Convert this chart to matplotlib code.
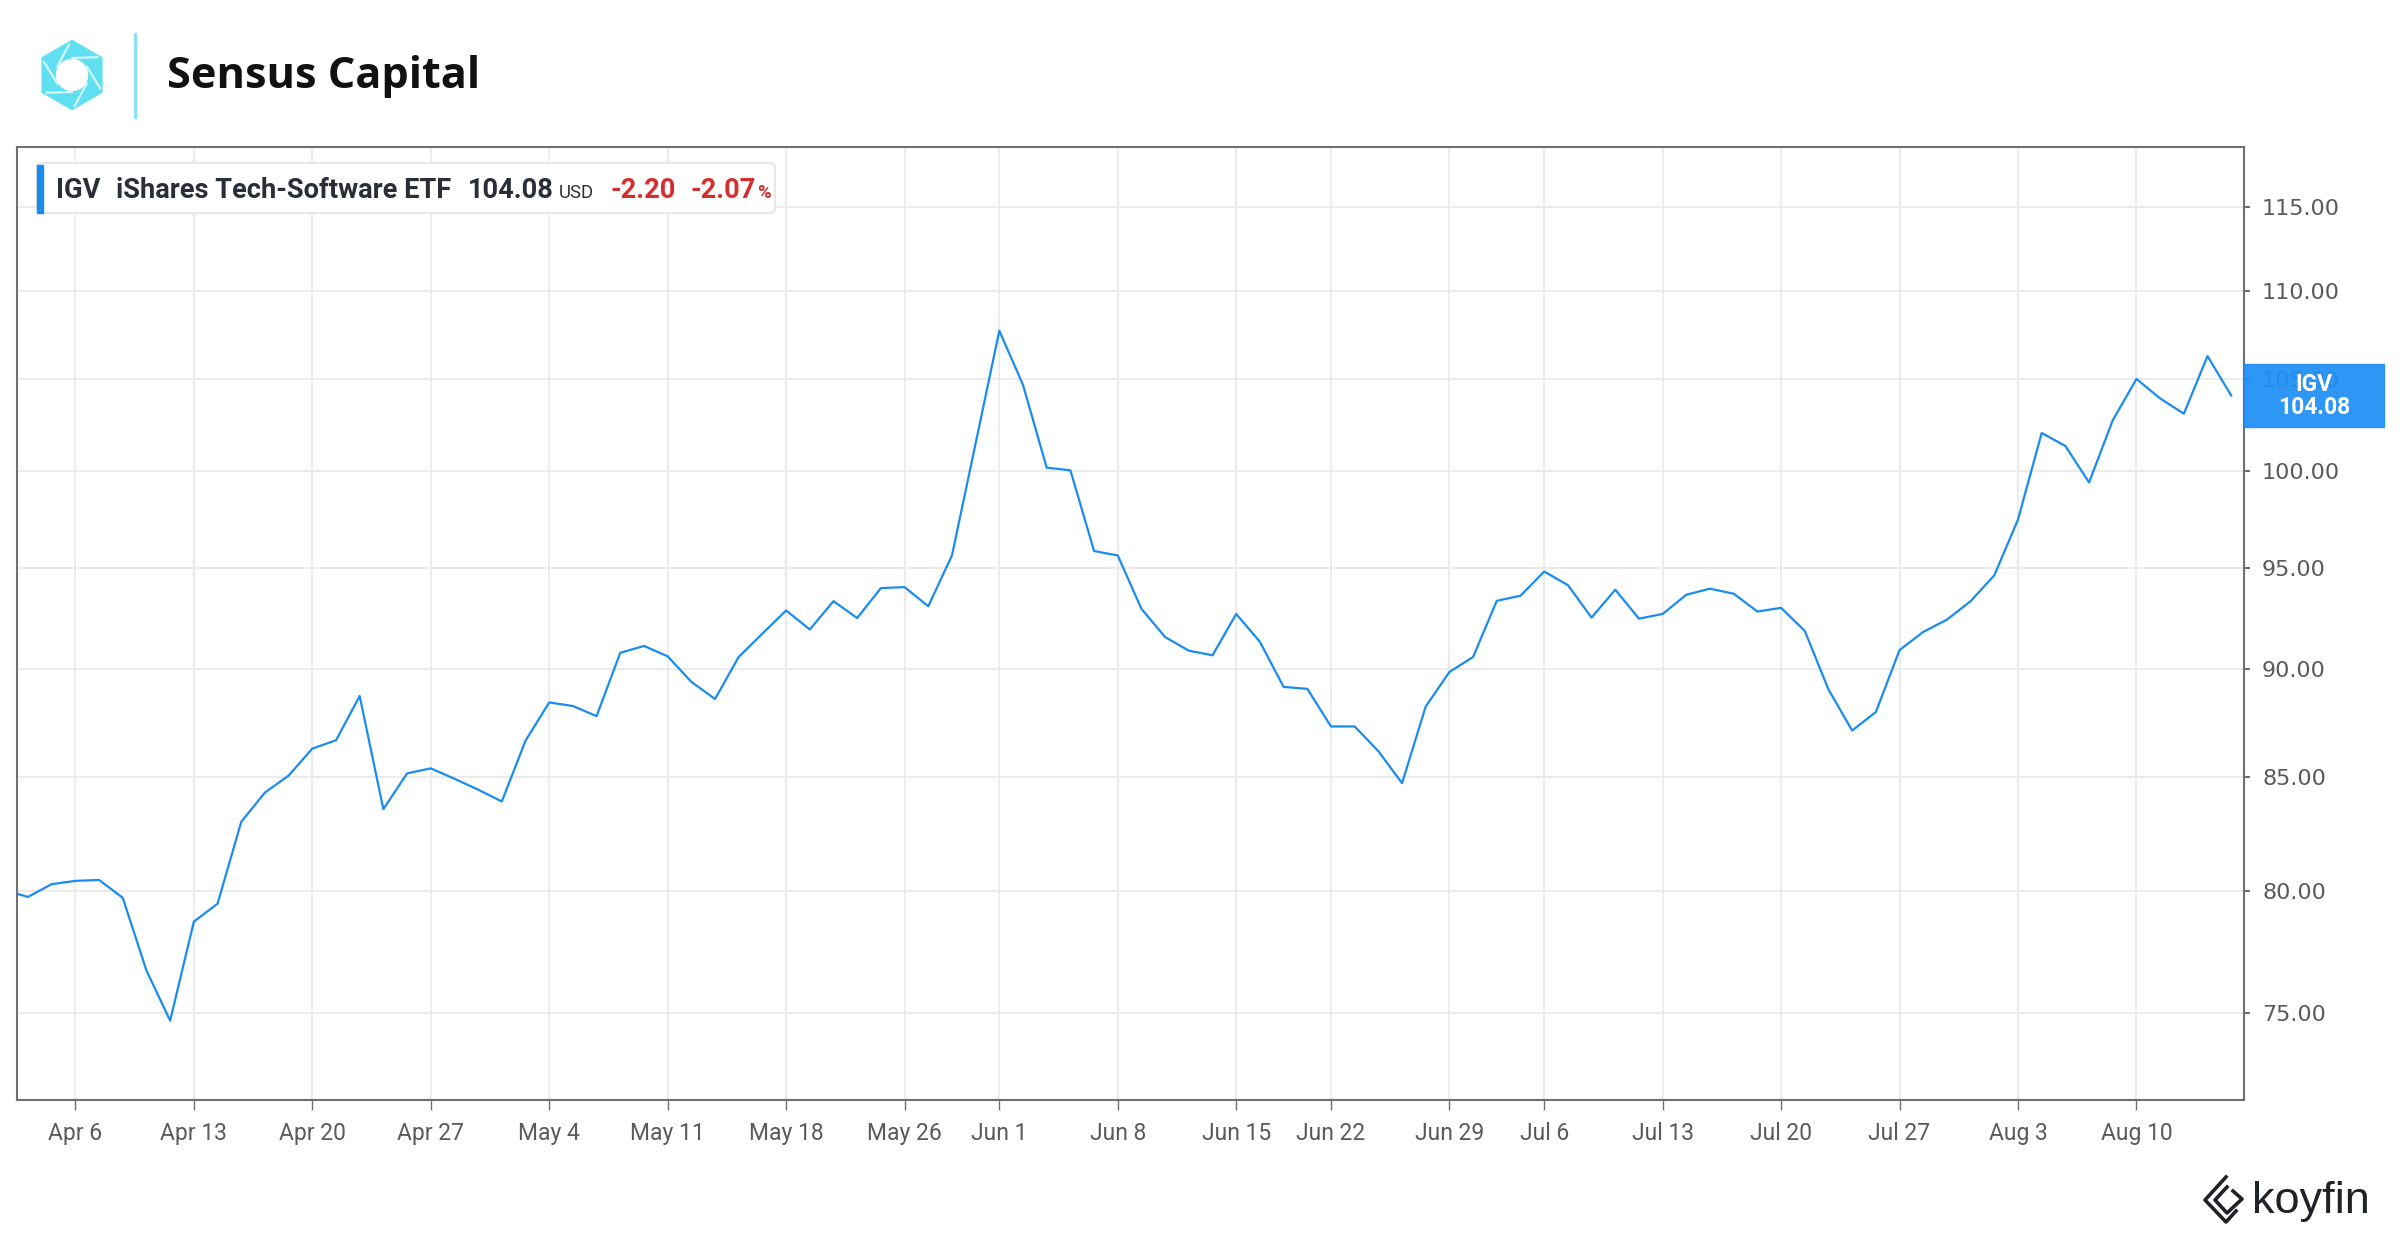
import numpy as np
import matplotlib
matplotlib.use("Agg")
import matplotlib.pyplot as plt
from matplotlib.patches import Rectangle, FancyBboxPatch, RegularPolygon, Circle
from matplotlib.lines import Line2D
from matplotlib.ticker import FixedLocator, NullLocator

# ---- data: IGV daily closes, one per trading day (Apr 1 .. Aug 14) ----
closes = [
    80.05, 79.77, 80.31, 80.45, 80.49, 79.73, 76.71, 74.70, 78.73, 79.48,
    83.01, 84.31, 85.07, 86.30, 86.68, 88.74, 83.57, 85.17, 85.40, 84.93,
    84.44, 83.91, 86.66, 88.44, 88.27, 87.80, 90.80, 91.13, 90.63, 89.41,
    88.60, 90.60, 91.73, 92.86, 91.93, 93.32, 92.49, 93.97, 94.02, 93.07,
    95.61, 101.47, 107.72, 104.67, 100.17, 100.03, 95.84, 95.61, 92.94, 91.56,
    90.90, 90.68, 92.69, 91.33, 89.17, 89.08, 87.32, 87.32, 86.18, 84.73,
    88.25, 89.88, 90.60, 93.34, 93.59, 94.80, 94.12, 92.51, 93.89, 92.46,
    92.69, 93.64, 93.94, 93.69, 92.81, 92.99, 91.86, 89.05, 87.13, 87.99,
    90.93, 91.81, 92.41, 93.32, 94.61, 97.45, 102.03, 101.33, 99.39, 102.72,
    105.00, 103.92, 103.08, 106.28, 104.08,
]
tick_pos = [3, 8, 13, 18, 23, 28, 33, 38, 42, 47, 52, 56, 61, 65, 70, 75, 80, 85, 90]
tick_labels = ["Apr 6", "Apr 13", "Apr 20", "Apr 27", "May 4", "May 11", "May 18",
               "May 26", "Jun 1", "Jun 8", "Jun 15", "Jun 22", "Jun 29", "Jul 6",
               "Jul 13", "Jul 20", "Jul 27", "Aug 3", "Aug 10"]
y_ticks = [75, 80, 85, 90, 95, 100, 105, 110, 115]

ticker = "IGV"
fund_name = "iShares Tech-Software ETF"
last_price = 104.08
change = -2.20
change_pct = -2.07

BLUE = "#1a8cf0"
GRAY = "#707070"

W, H = 2400, 1240
plt.rcParams['font.family'] = ['Roboto', 'DejaVu Sans']

def fx(x):
    return x / W

def fy(y):
    return 1 - y / H

fig = plt.figure(figsize=(24, 12.4), dpi=100)
renderer = fig.canvas.get_renderer()

def width_of(t):
    return t.get_window_extent(renderer).width

def fit(t, target_w):
    # scale the font so the text is as wide as in the reference
    t.set_fontsize(t.get_fontsize() * target_w / width_of(t))
    return t

# ---- main chart ----
ax = fig.add_axes([fx(17), fy(1100), fx(2244) - fx(17), fy(147) - fy(1100)])
x = np.arange(len(closes))
ax.plot(x, closes, color=BLUE, lw=1.6, zorder=3)
ax.set_yscale('log')
ax.set_ylim(71.62, 118.75)
ax.set_xlim(0.535, 94.54)

ax.yaxis.set_major_locator(FixedLocator(y_ticks))
ax.yaxis.set_minor_locator(NullLocator())
ax.set_yticklabels([f"{v:.2f}" for v in y_ticks])
ax.yaxis.tick_right()
ax.set_xticks(tick_pos)
ax.set_xticklabels(tick_labels)
ax.tick_params(axis='y', length=4, width=1.5, color=GRAY, pad=9,
               labelsize=16, labelcolor='#5a5a5a')
for lab in ax.get_yticklabels():
    lab.set_family(['DejaVu Sans'])
ax.tick_params(axis='x', length=7, width=1, color=GRAY, pad=9,
               labelsize=16.5, labelcolor='#5a5a5a')
ax.grid(True, color='#ebebeb', lw=1.4)
ax.set_axisbelow(True)
for s in ax.spines.values():
    s.set_color(GRAY)
    s.set_linewidth(1.5)

# ---- legend box in the top left of the chart ----
box = FancyBboxPatch((fx(37), fy(213)), fx(775) - fx(37), fy(163) - fy(213),
                     boxstyle="round,pad=0,rounding_size=0.003",
                     transform=fig.transFigure, facecolor='white',
                     edgecolor='#e4e4e4', lw=1.2, zorder=2)
fig.patches.append(box)
bar = Rectangle((fx(37), fy(213)), fx(43) - fx(37), fy(165) - fy(213),
                transform=fig.transFigure, color=BLUE, zorder=3)
fig.patches.append(bar)

base = fy(198)
dark = '#2a2e39'
red = '#d32f2f'
name_t = fig.text(fx(116), base, fund_name, fontsize=18, fontweight='bold',
                  color=dark, va='baseline')
fit(name_t, 336)
fs = name_t.get_fontsize()

def chain(xpix, s, gap, size, color, weight='bold'):
    t = fig.text(fx(xpix), base, s, fontsize=size, fontweight=weight,
                 color=color, va='baseline')
    return t.get_window_extent(renderer).x1 + gap

fig.text(fx(56), base, ticker, fontsize=fs, fontweight='bold', color=dark, va='baseline')
xp = 468
xp = chain(xp, f"{last_price:.2f}", 5, fs, dark)
xp = chain(xp, "USD", 17, fs * 0.68, dark, 'normal')
xp = chain(xp, f"{change:.2f}", 14, fs, red)
xp = chain(xp, f"{change_pct:.2f}", 1, fs, red)
chain(xp, "%", 0, fs * 0.68, red)

# ---- last price tag on the right axis ----
y_last = ax.transData.transform((0, last_price))[1]
tag_h = 63
tag = Rectangle((fx(2244), (y_last - tag_h / 2) / H), fx(2384) - fx(2244), tag_h / H,
                transform=fig.transFigure, color='#1e8ef5', alpha=0.93, zorder=5)
fig.patches.append(tag)
fig.text(fx(2314), (y_last + 11) / H, ticker, fontsize=16.5, fontweight='bold',
         color='white', ha='center', va='center', zorder=6)
fig.text(fx(2314), (y_last - 12) / H, f"{last_price:.2f}", fontsize=16.5, fontweight='bold',
         color='white', ha='center', va='center', zorder=6)

# ---- header: logo + name ----
lax = fig.add_axes([fx(34), fy(112), fx(110) - fx(34), fy(38) - fy(112)])
lax.set_xlim(-38, 38)
lax.set_ylim(-37, 37)
lax.set_aspect('equal')
lax.axis('off')
cyan = '#5fdff0'
lax.add_patch(RegularPolygon((0, 0), 6, radius=34.5, orientation=0, color=cyan))
for k in range(6):
    a = np.deg2rad(90 + 60 * k)
    b = np.deg2rad(90 + 60 * k - 55)
    lax.plot([17 * np.cos(a), 31 * np.cos(b)], [17 * np.sin(a), 31 * np.sin(b)],
             color='#d2f7fb', lw=1.6)
lax.add_patch(Circle((0, 0), 15.5, color='white'))

fig.add_artist(Line2D([fx(135), fx(135)], [fy(34), fy(117)], color='#86e5f2', lw=2.2))
title = fig.text(fx(167), fy(88), "Sensus Capital", fontsize=30, fontweight='bold',
                 family=['Open Sans', 'DejaVu Sans'], color='#111111', va='baseline')
fit(title, 313)

# ---- koyfin mark bottom right ----
kc = '#1f2226'
fig.add_artist(Line2D([fx(2226), fx(2205), fx(2226), fx(2236)],
                      [fy(1177), fy(1200), fy(1222), fy(1211)], color=kc, lw=2.6))
fig.add_artist(Line2D([fx(2227), fx(2215), fx(2227), fx(2242), fx(2233)],
                      [fy(1187), fy(1200), fy(1213), fy(1199), fy(1191)], color=kc, lw=2.6))
kt = fig.text(fx(2252), fy(1213), "koyfin", fontsize=32, color=kc, va='baseline',
              family=['Liberation Sans', 'DejaVu Sans'])
fit(kt, 118)

fig.savefig("out.png", dpi=100, facecolor='white')
